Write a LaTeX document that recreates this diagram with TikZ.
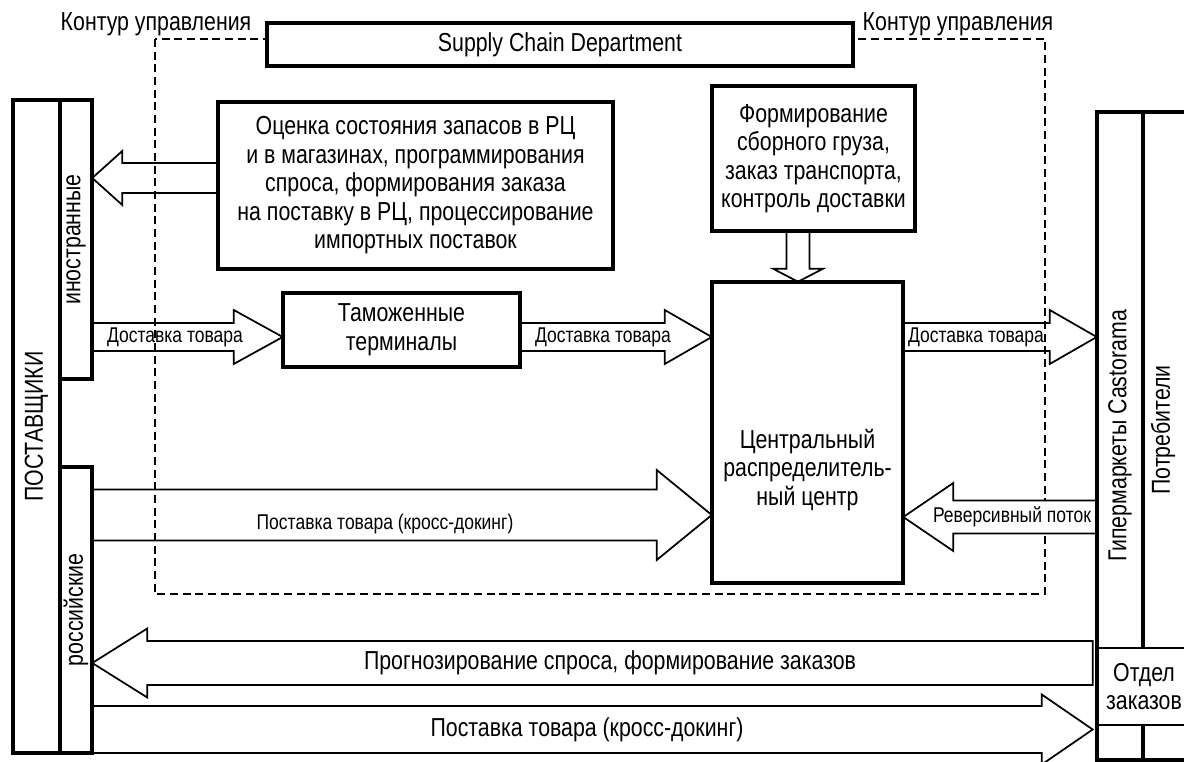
\documentclass[tikz,border=0pt]{standalone}
\usepackage{fontspec}
\setmainfont{Liberation Sans}[FakeStretch=0.82]
\usetikzlibrary{positioning,calc}

\newcommand\mainsize{\fontsize{19.5pt}{21.4pt}\selectfont}
\newcommand\lblsize{\fontsize{16pt}{18pt}\selectfont}
\newcommand\fatarrow[5]{%
  \draw[blockarrow] let \p1=(#1), \p2=(#2),
    \n1={atan2(\y2-\y1,\x2-\x1)}, \n2={veclen(\x2-\x1,\y2-\y1)} in
    {[shift={(\p1)}, rotate=\n1]
     (0pt,{#3*0.75pt}) -- ({\n2*1pt-#5*0.75pt},{#3*0.75pt}) -- ({\n2*1pt-#5*0.75pt},{#4*0.75pt})
     -- ({\n2*1pt},0pt) -- ({\n2*1pt-#5*0.75pt},{-#4*0.75pt}) -- ({\n2*1pt-#5*0.75pt},{-#3*0.75pt})
     -- (0pt,{-#3*0.75pt}) -- cycle};}

\begin{document}
\begin{tikzpicture}[x=0.75pt, y=-0.75pt,
  box/.style={draw, line width=2.4pt, fill=white, inner sep=0pt, align=center, font=\mainsize},
  sz/.style 2 args={minimum width=#1*0.75pt, minimum height=#2*0.75pt},
  vtext/.style={rotate=90, font=\mainsize, inner sep=0pt},
  blockarrow/.style={draw, line width=1.3pt, fill=white, line join=miter},
  contour/.style={line width=1.8pt, dash pattern=on 6pt off 3.5pt},
  lbl/.style={font=\lblsize, inner sep=0pt},
  big/.style={font=\mainsize, inner sep=0pt, align=center}]
\useasboundingbox (0,0) rectangle (1184,762);
\clip (0,0) rectangle (1184,762);

\path (36.5,426.5) node[sz={47}{653}] (supp) {}
      (76,239.5) node[sz={32}{279}] (inostr) {}
      (76,610) node[sz={32}{286}] (ross) {}
      (1120,436) node[sz={46}{648}] (hyper) {}
      (1169,436) node[sz={52}{648}] (cons) {}
      (1144,686.5) node[sz={92}{77}] (otdel) {}
      (560,44.5) node[sz={586}{43}] (scd) {}
      (415.5,185.5) node[sz={395}{167}] (ocenka) {}
      (813.5,158.5) node[sz={203}{145}] (form) {}
      (401.5,330) node[sz={237}{74}] (customs) {}
      (807.5,432.5) node[sz={191}{301}] (crc) {};
\coordinate (a1) at (0,178);
\coordinate (r1) at (0,337);
\coordinate (r2) at (0,515);
\coordinate (r3) at (0,517);
\coordinate (r4) at (0,663);
\coordinate (r5) at (0,729.5);
\coordinate (a7) at (798,0);
\coordinate (otdelin) at ([xshift=-3.75pt]otdel.west);
\coordinate (ctl) at (155,39);
\coordinate (cbr) at (1045,594);

\fatarrow{ocenka.west |- a1}{inostr.east |- a1}{15}{27}{30}
\fatarrow{inostr.east |- r1}{customs.west |- r1}{14}{27}{49}
\fatarrow{customs.east |- r1}{crc.west |- r1}{14}{27}{47}
\fatarrow{crc.east |- r1}{hyper.west |- r1}{14}{27}{47}
\fatarrow{ross.east |- r2}{crc.west |- r2}{25.5}{45}{55}
\fatarrow{form.south -| a7}{crc.north -| a7}{11.5}{25}{13}
\fatarrow{otdelin |- r4}{ross.east |- r4}{22}{34.5}{55}
\fatarrow{ross.east |- r5}{otdelin |- r5}{23.5}{35}{51}
\draw[contour] (ctl) rectangle (cbr);
\fatarrow{hyper.west |- r3}{crc.east |- r3}{16.5}{34}{50}

\node[box, sz={47}{653}] at (supp) {};
\node[box, sz={32}{279}] at (inostr) {};
\node[box, sz={32}{286}] at (ross) {};
\node[box, sz={46}{648}] at (hyper) {};
\node[box, sz={52}{648}] at (cons) {};
\node[box, sz={92}{77}, line width=2pt] at (otdel) {Отдел\\заказов};
\node[box, sz={586}{43}] at (scd) {Supply Chain Department};
\node[box, sz={395}{167}] at (ocenka) {Оценка состояния запасов в РЦ\\и в магазинах, программирования\\спроса, формирования заказа\\на поставку в РЦ, процессирование\\импортных поставок};
\node[box, sz={203}{145}] at (form) {Формирование\\сборного груза,\\заказ транспорта,\\контроль доставки};
\node[box, sz={237}{74}] at (customs) {Таможенные\\терминалы};
\node[box, sz={191}{301}] at (crc) {};
\node[big] (crctext) at (807.5,470) {Центральный\\распределитель-\\ный центр};

\node[vtext] (supptext) at (supp) {ПОСТАВЩИКИ};
\node[vtext] (inostrtext) at (inostr) {иностранные};
\node[vtext] (rosstext) at (ross) {российские};
\node[vtext] (hypertext) at (hyper) {Гипермаркеты Castorama};
\node[vtext] (constext) at (1163,430) {Потребители};
\node[big] (ctrlL) at (156,24) {Контур управления};
\node[big] (ctrlR) at (958,24) {Контур управления};

\node[lbl] (lbl2) at (175,337) {Доставка товара};
\node[lbl] (lbl3) at (603,337) {Доставка товара};
\node[lbl] (lbl4) at (976,337) {Доставка товара};
\node[lbl] (lbl5) at (385,524) {Поставка товара (кросс-докинг)};
\node[lbl] (lbl6) at (1012,517) {Реверсивный поток};
\node[big] (lbl8) at (610,663) {Прогнозирование спроса, формирование заказов};
\node[big] (lbl9) at (587,730) {Поставка товара (кросс-докинг)};
\end{tikzpicture}
\end{document}
